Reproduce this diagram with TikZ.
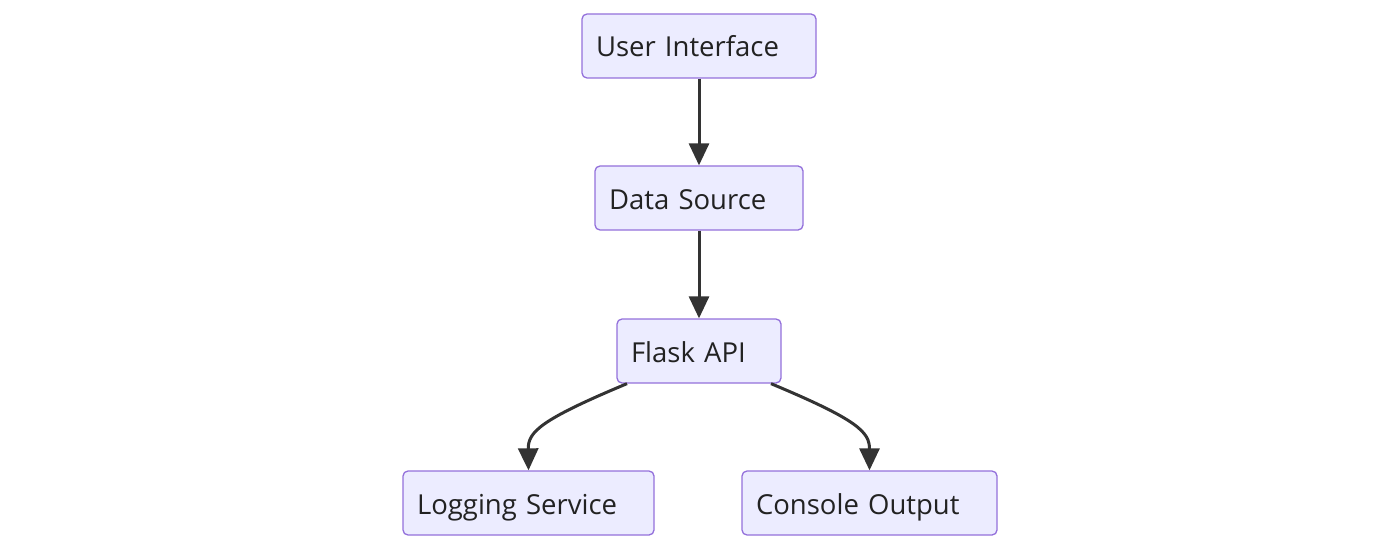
\documentclass[tikz,border=0pt]{standalone}
\usepackage{fontspec}
\setmainfont{Open Sans}
\usetikzlibrary{arrows.meta}
\definecolor{boxfill}{HTML}{ECECFF}
\definecolor{boxdraw}{HTML}{9370DB}
\definecolor{edge}{HTML}{333333}
\definecolor{txt}{HTML}{222222}
\begin{document}
\begin{tikzpicture}[x=1pt,y=1pt,
  box/.style={draw=boxdraw, fill=boxfill, line width=1.3pt, rounded corners=5pt,
    minimum height=64pt, inner xsep=14pt, inner ysep=0pt, align=left,
    text height=27pt, text depth=5pt,
    font=\fontsize{27.5}{32}\selectfont, text=txt},
  conn/.style={draw=edge, line width=3pt, -{Triangle[length=22pt,width=20pt]}}]
\useasboundingbox (0,0) rectangle (1400,550);
\node[box, text width=206pt] (ui) at (699,504) {User Interface};
\node[box, text width=180pt] (ds) at (699,352) {Data Source};
\node[box, text width=136pt] (api) at (699,199) {Flask API};
\node[box, text width=223pt] (log) at (528.5,47) {Logging Service};
\node[box, text width=227pt] (con) at (869.5,47) {Console Output};
\draw[conn] (ui.south) -- (ds.north);
\draw[conn] (ds.south) -- (api.north);
\draw[conn] ([xshift=-72pt]api.south) .. controls (540,130) and (528,118) .. (log.north);
\draw[conn] ([xshift=72pt]api.south) .. controls (858,130) and (869.5,118) .. (con.north);
\end{tikzpicture}
\end{document}
